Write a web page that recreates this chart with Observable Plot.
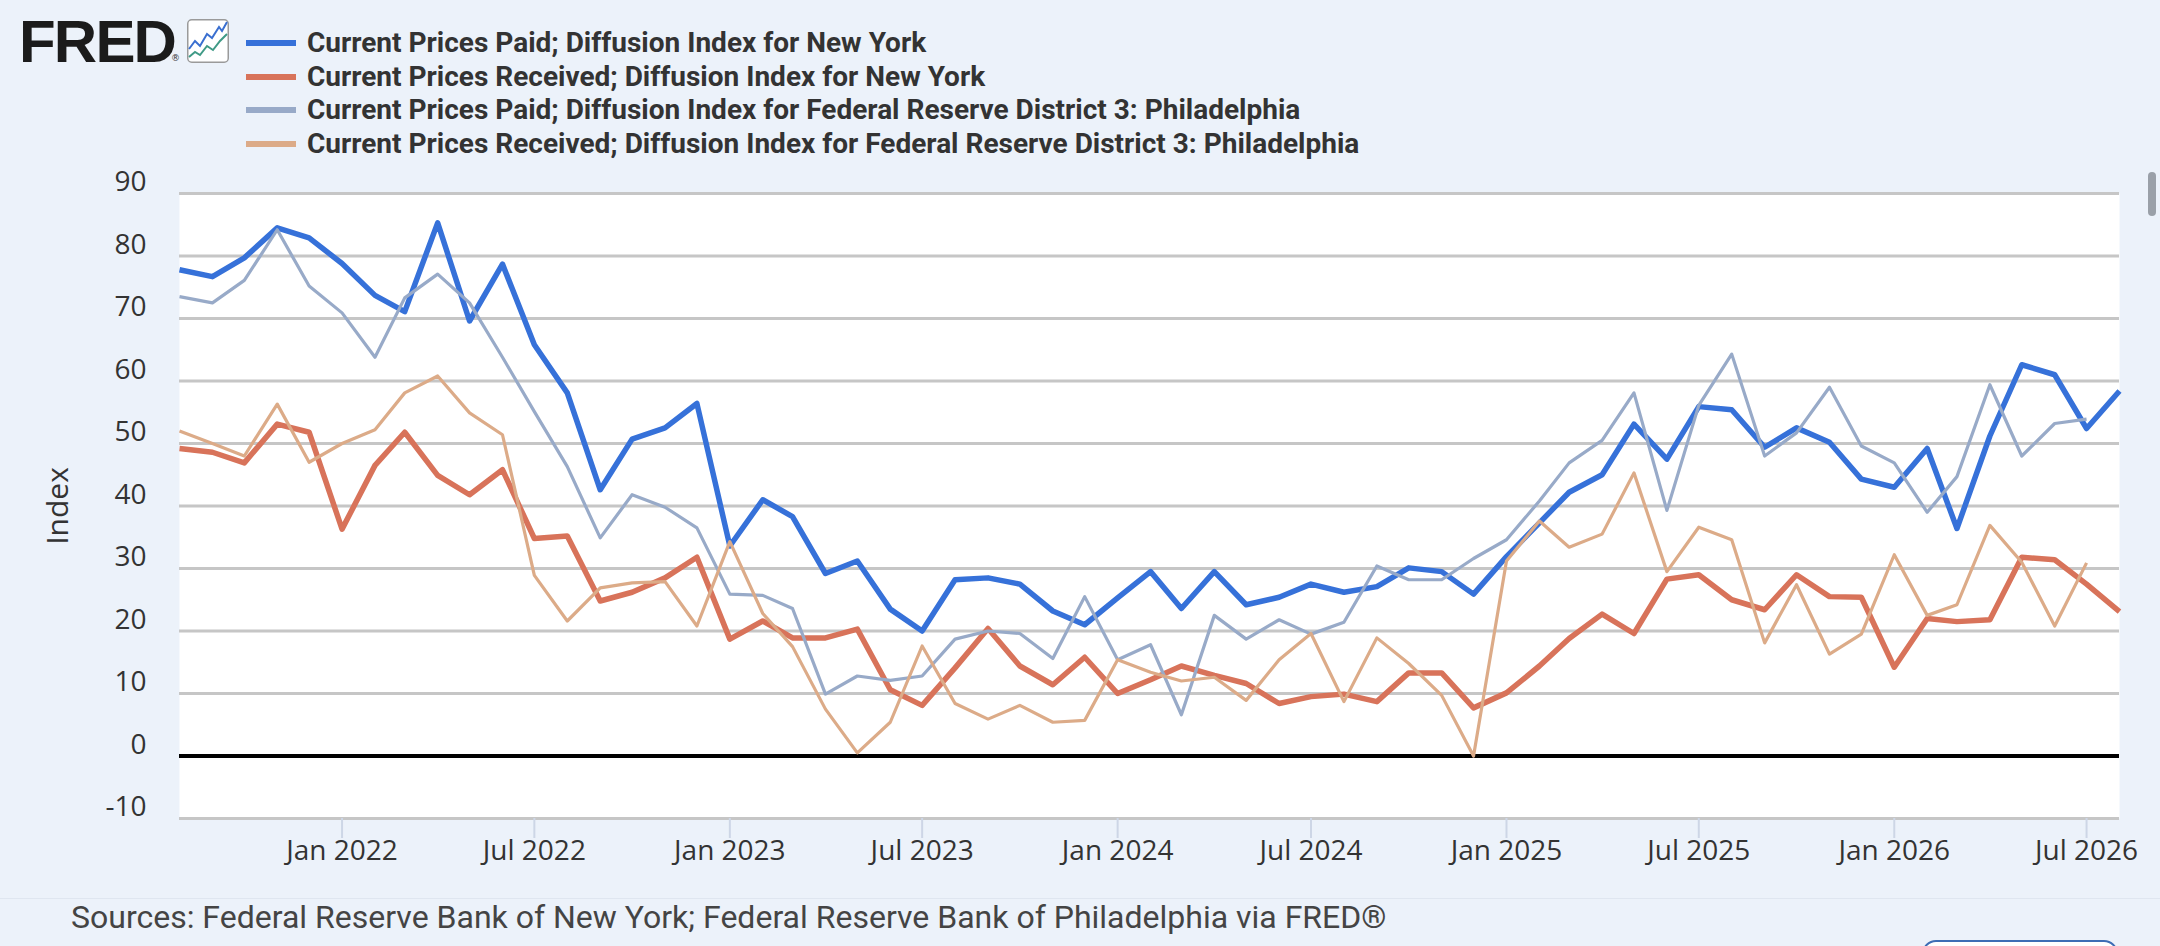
<!DOCTYPE html>
<html>
<head>
<meta charset="utf-8">
<script src="https://cdn.jsdelivr.net/npm/d3@7"></script>
<script src="https://cdn.jsdelivr.net/npm/@observablehq/plot@0.6"></script>
<style>
  html, body { margin: 0; padding: 0; background: #ecf2fa; width: 2160px; height: 946px; overflow: hidden; }
  #wrap { position: relative; width: 2160px; height: 946px; }
  #chart { position: absolute; left: 0; top: 0; }
  .abs { position: absolute; white-space: nowrap; }
  #fred { left: 19px; top: 12px; font: 900 60px/60px "Liberation Sans", Arial, sans-serif; color: #1b1b1b; letter-spacing: -1.8px; }
  #reg { left: 171px; top: 54px; font: 400 9px/9px "DejaVu Sans", sans-serif; color: #333; }
  #icon { left: 187px; top: 19px; width: 42px; height: 44px; }
  .sw { position: absolute; left: 246px; width: 50px; height: 6px; }
  .lg { position: absolute; left: 307px; font: 700 28px/34px Roboto, "Noto Sans", sans-serif; color: #333; white-space: nowrap; }
  #ylab { left: 57px; top: 506px; font: 400 30px/30px "Open Sans", sans-serif; color: #333; transform: translate(-50%, -50%) rotate(-90deg); }
  #sep { left: 0; top: 898px; width: 2160px; height: 0; border-top: 1px solid #dfe6f0; }
  #src { left: 71px; top: 899px; font: 400 32px/36px Roboto, sans-serif; color: #444; }
  #scroll { left: 2148px; top: 172px; width: 8px; height: 44px; border-radius: 4px; background: #9aa0a8; }
  #btn { left: 1922px; top: 940px; width: 196px; height: 40px; border: 2px solid #3d6db5; border-radius: 14px; box-sizing: border-box; background: #fff; }
</style>
</head>
<body>
<div id="wrap">
  <div id="chart"></div>
</div>
<script>
// ---------- data (monthly, Aug 2021 onward) ----------
const startMonth = "2021-08-01";
const endMonth = "2026-08-01";

const nyPaid = [
  77.8, 76.7, 79.7, 84.5, 82.9,
  78.8, 73.7, 71.1, 85.3, 69.6, 78.7, 65.8, 58.1, 42.6, 50.7, 52.5, 56.4,
  33.6, 41.0, 38.3, 29.2, 31.2, 23.5, 20.0, 28.2, 28.5, 27.5, 23.2, 21.0,
  25.3, 29.5, 23.6, 29.5, 24.2, 25.4, 27.5, 26.2, 27.1, 30.1, 29.5, 25.9,
  31.9, 37.3, 42.2, 45.0, 53.1, 47.5, 55.9, 55.4, 49.4, 52.5, 50.2, 44.3,
  43.0, 49.2, 36.4, 51.2, 62.6, 61.0, 52.4, 58.4
];
const nyReceived = [
  49.2, 48.6, 46.9, 53.1, 51.8,
  36.3, 46.5, 51.8, 44.9, 41.8, 45.8, 34.8, 35.2, 24.8, 26.2, 28.5, 31.8,
  18.7, 21.6, 18.9, 18.9, 20.3, 10.6, 8.1, 14.1, 20.4, 14.4, 11.4, 15.8,
  10.0, 12.2, 14.4, 12.9, 11.6, 8.4, 9.5, 9.9, 8.7, 13.3, 13.3, 7.7,
  10.1, 14.4, 18.8, 22.7, 19.6, 28.3, 29.0, 25.0, 23.4, 29.0, 25.5, 25.4,
  14.2, 22.0, 21.5, 21.8, 31.8, 31.4, 27.5, 23.1
];
const phPaid = [
  73.5, 72.5, 76.1, 84.2, 75.2,
  70.9, 63.8, 73.3, 77.1, 72.5, 63.8, 55.1, 46.3, 34.9, 41.8, 39.8, 36.5,
  25.9, 25.7, 23.6, 9.9, 12.8, 12.1, 12.8, 18.7, 20.0, 19.6, 15.6, 25.5,
  15.4, 17.8, 6.6, 22.5, 18.7, 21.8, 19.5, 21.4, 30.4, 28.2, 28.2, 31.6,
  34.6, 40.8, 46.9, 50.5, 58.1, 39.3, 56.1, 64.3, 48.0, 51.7, 59.0, 49.6,
  46.9, 39.0, 44.7, 59.4, 48.0, 53.2, 53.9
];
const phReceived = [
  52.0, 50.0, 48.0, 56.3, 47.0,
  50.0, 52.2, 58.1, 60.8, 54.9, 51.4, 28.9, 21.6, 26.9, 27.7, 27.9, 20.8,
  34.3, 22.8, 17.5, 7.5, 0.5, 5.4, 17.6, 8.4, 5.9, 8.1, 5.4, 5.7,
  15.4, 13.4, 12.0, 12.6, 8.9, 15.4, 19.6, 8.7, 18.9, 14.8, 9.7, 0.0,
  31.2, 37.6, 33.4, 35.5, 45.3, 29.5, 36.6, 34.6, 18.1, 27.4, 16.3, 19.5,
  32.2, 22.5, 24.2, 36.9, 31.0, 20.8, 30.9
];

const seriesNames = [
  "Current Prices Paid; Diffusion Index for New York",
  "Current Prices Received; Diffusion Index for New York",
  "Current Prices Paid; Diffusion Index for Federal Reserve District 3: Philadelphia",
  "Current Prices Received; Diffusion Index for Federal Reserve District 3: Philadelphia"
];
const seriesColors = ["#3671d9", "#d8735a", "#98aac8", "#dcab88"];
const seriesWidths = [5.5, 5.5, 3.2, 3.2];

const yTicks = [-10, 0, 10, 20, 30, 40, 50, 60, 70, 80, 90];
const xTickLabels = ["Jan 2022", "Jul 2022", "Jan 2023", "Jul 2023", "Jan 2024", "Jul 2024", "Jan 2025", "Jul 2025", "Jan 2026", "Jul 2026"];
const yLabel = "Index";
const sourceText = "Sources: Federal Reserve Bank of New York; Federal Reserve Bank of Philadelphia via FRED®";

// ---------- build tables ----------
const parseTick = d3.utcParse("%b %Y");
const xTicks = xTickLabels.map(parseTick);
const t0 = new Date(startMonth + "T00:00:00Z");
const toRows = (arr, k) => arr.map((v, i) => ({date: d3.utcMonth.offset(t0, i), value: v, series: seriesNames[k]}));
const allSeries = [nyPaid, nyReceived, phPaid, phReceived].map(toRows);

const chart = Plot.plot({
  width: 2160,
  height: 880,
  marginTop: 193,
  marginLeft: 179,
  marginRight: 41,
  marginBottom: 62,
  style: {background: "transparent", fontFamily: "'Open Sans', sans-serif", overflow: "visible"},
  x: {type: "utc", domain: [t0, new Date(endMonth + "T00:00:00Z")]},
  y: {domain: [-10, 90]},
  marks: [
    Plot.frame({fill: "white", stroke: "none"}),
    Plot.ruleY(yTicks, {stroke: "#c6c6c6", strokeWidth: 3}),
    Plot.ruleY([0], {stroke: "#000", strokeWidth: 4}),
    Plot.axisX({ticks: xTicks, tickFormat: d3.utcFormat("%b %Y"), tickSize: 20, tickPadding: 2,
                stroke: "#cdd6e6", strokeWidth: 2, fill: "#333", fontSize: 28, label: null}),
    Plot.axisY({ticks: yTicks, tickFormat: d => String(d), tickSize: 0, tickPadding: 33,
                fill: "#333", fontSize: 28, dy: -11, label: null}),
    ...allSeries.map((rows, k) => Plot.lineY(rows, {
      x: "date", y: "value", stroke: seriesColors[k], strokeWidth: seriesWidths[k],
      strokeLinejoin: "round", strokeLinecap: "butt"
    }))
  ]
});
document.getElementById("chart").appendChild(chart);

// ---------- header, legend, footer ----------
const wrap = document.getElementById("wrap");
function add(html) { wrap.insertAdjacentHTML("beforeend", html); }
add('<div id="fred" class="abs">FRED</div>');
add('<div id="reg" class="abs">®</div>');
add('<svg id="icon" class="abs" viewBox="0 0 42 44"><rect x="0.75" y="0.75" width="40.5" height="42.5" rx="4" fill="#fff" stroke="#9a9a9a" stroke-width="1.5"/>' +
    '<polyline points="2,30 8,22 13,27 20,15 25,19 32,8 35,12 40,3" fill="none" stroke="#3a6fd0" stroke-width="2"/>' +
    '<polyline points="2,38 8,33 13,36 20,27 26,31 33,22 40,15" fill="none" stroke="#3f9a86" stroke-width="2"/></svg>');
const rowTops = [26, 60, 93, 127];
const rowCenters = [43, 77, 110, 144];
seriesNames.forEach((name, k) => {
  add(`<div class="sw" style="top:${rowCenters[k] - 3}px;background:${seriesColors[k]}"></div>`);
  add(`<div class="lg" style="top:${rowTops[k]}px">${name}</div>`);
});
add(`<div id="ylab" class="abs">${yLabel}</div>`);
add('<div id="sep" class="abs"></div>');
add(`<div id="src" class="abs">${sourceText}</div>`);
add('<div id="scroll" class="abs"></div>');
add('<div id="btn" class="abs"></div>');
</script>
</body>
</html>
